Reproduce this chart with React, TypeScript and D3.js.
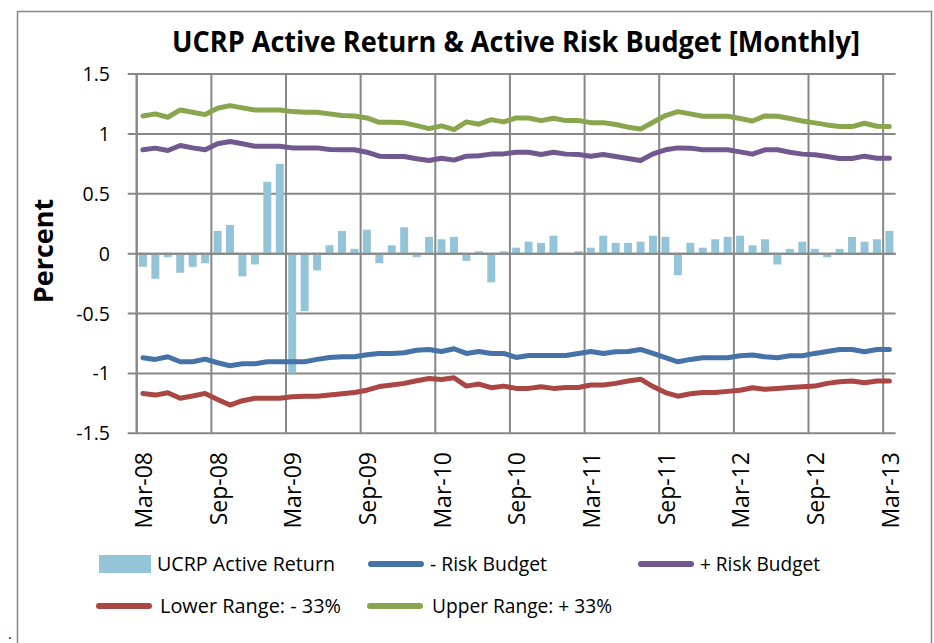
import React from 'react';
import * as d3 from 'd3';

const months = [
  'Mar-08','Apr-08','May-08','Jun-08','Jul-08','Aug-08','Sep-08','Oct-08','Nov-08','Dec-08','Jan-09','Feb-09',
  'Mar-09','Apr-09','May-09','Jun-09','Jul-09','Aug-09','Sep-09','Oct-09','Nov-09','Dec-09','Jan-10','Feb-10',
  'Mar-10','Apr-10','May-10','Jun-10','Jul-10','Aug-10','Sep-10','Oct-10','Nov-10','Dec-10','Jan-11','Feb-11',
  'Mar-11','Apr-11','May-11','Jun-11','Jul-11','Aug-11','Sep-11','Oct-11','Nov-11','Dec-11','Jan-12','Feb-12',
  'Mar-12','Apr-12','May-12','Jun-12','Jul-12','Aug-12','Sep-12','Oct-12','Nov-12','Dec-12','Jan-13','Feb-13',
  'Mar-13'
];

const xTickLabels = ['Mar-08','Sep-08','Mar-09','Sep-09','Mar-10','Sep-10','Mar-11','Sep-11','Mar-12','Sep-12','Mar-13'];

const activeReturn = [
  -0.11, -0.21, -0.03, -0.16, -0.11, -0.08, 0.19, 0.24, -0.19, -0.09, 0.60, 0.75,
  -1.00, -0.48, -0.14, 0.07, 0.19, 0.04, 0.20, -0.08, 0.07, 0.22, -0.03, 0.14,
  0.12, 0.14, -0.06, 0.02, -0.24, 0.02, 0.05, 0.10, 0.09, 0.15, 0.00, 0.02,
  0.05, 0.15, 0.09, 0.09, 0.10, 0.15, 0.14, -0.18, 0.09, 0.05, 0.12, 0.14,
  0.15, 0.07, 0.12, -0.09, 0.04, 0.10, 0.04, -0.03, 0.04, 0.14, 0.10, 0.12,
  0.19
];

const minusRiskBudget = [
  -0.869, -0.883, -0.861, -0.903, -0.903, -0.881, -0.911, -0.936, -0.919, -0.919, -0.903, -0.903,
  -0.903, -0.903, -0.883, -0.867, -0.861, -0.861, -0.844, -0.833, -0.833, -0.828, -0.806, -0.800,
  -0.817, -0.794, -0.833, -0.817, -0.833, -0.833, -0.867, -0.850, -0.850, -0.850, -0.850, -0.833,
  -0.817, -0.833, -0.819, -0.817, -0.800, -0.833, -0.869, -0.903, -0.883, -0.869, -0.869, -0.869,
  -0.853, -0.847, -0.861, -0.869, -0.853, -0.853, -0.833, -0.817, -0.800, -0.800, -0.819, -0.800,
  -0.800
];

const plusRiskBudget = [
  0.867, 0.881, 0.861, 0.903, 0.883, 0.867, 0.917, 0.936, 0.917, 0.897, 0.897, 0.897,
  0.883, 0.883, 0.883, 0.869, 0.867, 0.867, 0.847, 0.814, 0.811, 0.811, 0.792, 0.778,
  0.797, 0.781, 0.814, 0.817, 0.831, 0.833, 0.847, 0.847, 0.828, 0.847, 0.831, 0.828,
  0.814, 0.828, 0.811, 0.794, 0.778, 0.833, 0.867, 0.883, 0.881, 0.867, 0.867, 0.867,
  0.850, 0.831, 0.867, 0.867, 0.847, 0.831, 0.825, 0.811, 0.794, 0.794, 0.814, 0.797,
  0.797
];

const lowerRange = [
  -1.167, -1.181, -1.161, -1.208, -1.189, -1.167, -1.217, -1.264, -1.228, -1.208, -1.208, -1.208,
  -1.194, -1.190, -1.190, -1.180, -1.170, -1.160, -1.140, -1.110, -1.097, -1.083, -1.061, -1.042,
  -1.050, -1.036, -1.106, -1.089, -1.119, -1.106, -1.125, -1.125, -1.111, -1.125, -1.117, -1.117,
  -1.097, -1.097, -1.083, -1.064, -1.048, -1.110, -1.160, -1.190, -1.170, -1.160, -1.160, -1.150,
  -1.140, -1.120, -1.133, -1.125, -1.117, -1.111, -1.106, -1.083, -1.069, -1.064, -1.078, -1.064,
  -1.064
];

const upperRange = [
  1.150, 1.167, 1.139, 1.200, 1.181, 1.161, 1.214, 1.236, 1.217, 1.200, 1.200, 1.200,
  1.186, 1.181, 1.181, 1.167, 1.153, 1.150, 1.133, 1.097, 1.097, 1.092, 1.069, 1.044,
  1.067, 1.036, 1.100, 1.081, 1.119, 1.100, 1.133, 1.133, 1.111, 1.131, 1.111, 1.111,
  1.094, 1.094, 1.078, 1.056, 1.040, 1.097, 1.153, 1.186, 1.167, 1.147, 1.147, 1.147,
  1.128, 1.108, 1.150, 1.147, 1.128, 1.108, 1.092, 1.075, 1.061, 1.061, 1.089, 1.064,
  1.061
];

const yTicks = [-1.5, -1, -0.5, 0, 0.5, 1, 1.5];
const yTickLabels = ['-1.5', '-1', '-0.5', '0', '0.5', '1', '1.5'];

const seriesNames = ['UCRP Active Return', '- Risk Budget', '+ Risk Budget', 'Lower Range: - 33%', 'Upper Range: + 33%'];

const COLORS = {
  bar: '#93C4D7',
  minus: '#4572A7',
  plus: '#71588F',
  lower: '#AA4643',
  upper: '#89A54E',
  grid: '#878787',
};

const FONT = '"Open Sans", "DejaVu Sans", sans-serif';

export default function App() {
  const W = 934;
  const H = 643;
  const left = 136.7;
  const right = 895.6;
  const top = 74;
  const bottom = 433.3;

  const x = d3.scaleBand<string>().domain(months).range([left, right]).padding(0);
  const y = d3.scaleLinear().domain([-1.5, 1.5]).range([bottom, top]);
  const bw = x.bandwidth();
  const cx = (i: number) => (x(months[i]) as number) + bw / 2;
  const barW = bw * 0.64;

  const lineGen = d3
    .line<number>()
    .x((_, i) => cx(i))
    .y((d) => y(d))
    .curve(d3.curveLinear);

  const lines = [
    { data: minusRiskBudget, color: COLORS.minus },
    { data: plusRiskBudget, color: COLORS.plus },
    { data: lowerRange, color: COLORS.lower },
    { data: upperRange, color: COLORS.upper },
  ];

  const legendItems = [
    { name: seriesNames[0], kind: 'bar', color: COLORS.bar, sx: 99, sw: 52, tx: 157, tl: 178, cy: 564 },
    { name: seriesNames[1], kind: 'line', color: COLORS.minus, sx: 368, sw: 56, tx: 430, tl: 117, cy: 564 },
    { name: seriesNames[2], kind: 'line', color: COLORS.plus, sx: 638, sw: 56, tx: 700, tl: 120, cy: 564 },
    { name: seriesNames[3], kind: 'line', color: COLORS.lower, sx: 96, sw: 56, tx: 160, tl: 181, cy: 606 },
    { name: seriesNames[4], kind: 'line', color: COLORS.upper, sx: 367, sw: 56, tx: 432, tl: 180, cy: 606 },
  ];

  return (
    <svg
      width={W}
      height={H}
      viewBox={`0 0 ${W} ${H}`}
      style={{ position: 'absolute', left: 0, top: 0, background: '#fff' }}
      fontFamily={FONT}
    >
      <rect x={0} y={0} width={W} height={H} fill="#fff" />
      {/* chart frame */}
      <rect x={17.5} y={11.5} width={914} height={660} fill="#fff" stroke="#868686" strokeWidth={1.5} />

      {/* title */}
      <text x={172} y={52} fontSize={28} fontWeight="bold" fill="#000" textLength={688} lengthAdjust="spacingAndGlyphs">
        UCRP Active Return &amp; Active Risk Budget [Monthly]
      </text>

      {/* horizontal gridlines */}
      {yTicks.map((t) => (
        <line key={'h' + t} x1={left - 9} x2={right} y1={y(t)} y2={y(t)} stroke={COLORS.grid} strokeWidth={2} />
      ))}
      {/* vertical gridlines */}
      {xTickLabels.map((m) => (
        <line key={'v' + m} x1={x(m) as number} x2={x(m) as number} y1={top} y2={bottom} stroke={COLORS.grid} strokeWidth={2} />
      ))}
      <line x1={left} x2={left} y1={top} y2={bottom} stroke={COLORS.grid} strokeWidth={2} />

      {/* bars */}
      {activeReturn.map((v, i) => (
        <rect
          key={'b' + i}
          x={cx(i) - barW / 2}
          y={Math.min(y(v), y(0))}
          width={barW}
          height={Math.abs(y(v) - y(0))}
          fill={COLORS.bar}
        />
      ))}

      {/* zero axis line over bars */}
      <line x1={left} x2={right} y1={y(0)} y2={y(0)} stroke={COLORS.grid} strokeWidth={2} />

      {/* lines */}
      {lines.map((l, k) => (
        <path
          key={'l' + k}
          d={lineGen(l.data) as string}
          fill="none"
          stroke={l.color}
          strokeWidth={5}
          strokeLinecap="round"
          strokeLinejoin="round"
        />
      ))}

      {/* y tick labels */}
      {yTicks.map((t, i) => (
        <text key={'yt' + t} x={110} y={y(t)} dy="0.36em" textAnchor="end" fontSize={19.5} fill="#000">
          {yTickLabels[i]}
        </text>
      ))}

      {/* x tick labels */}
      {xTickLabels.map((m) => {
        const i = months.indexOf(m);
        return (
          <text
            key={'xt' + m}
            transform={`translate(${cx(i) + 1},452) rotate(-90)`}
            textAnchor="end"
            dy="0.36em"
            fontSize={23}
            fill="#000"
          >
            {m}
          </text>
        );
      })}

      {/* y axis title */}
      <text
        transform={`translate(43,251) rotate(-90)`}
        textAnchor="middle"
        dy="0.36em"
        fontSize={27}
        fontWeight="bold"
        fill="#000"
      >
        Percent
      </text>

      {/* legend */}
      {legendItems.map((it) => (
        <g key={it.name}>
          {it.kind === 'bar' ? (
            <rect x={it.sx} y={it.cy - 9} width={it.sw} height={18} fill={it.color} />
          ) : (
            <line
              x1={it.sx + 3}
              x2={it.sx + it.sw - 3}
              y1={it.cy}
              y2={it.cy}
              stroke={it.color}
              strokeWidth={6}
              strokeLinecap="round"
            />
          )}
          <text
            x={it.tx}
            y={it.cy}
            dy="0.36em"
            fontSize={20}
            fill="#000"
            textLength={it.tl}
            lengthAdjust="spacingAndGlyphs"
          >
            {it.name}
          </text>
        </g>
      ))}

      <text x={8} y={639} fontSize={14} fill="#000">.</text>
    </svg>
  );
}
